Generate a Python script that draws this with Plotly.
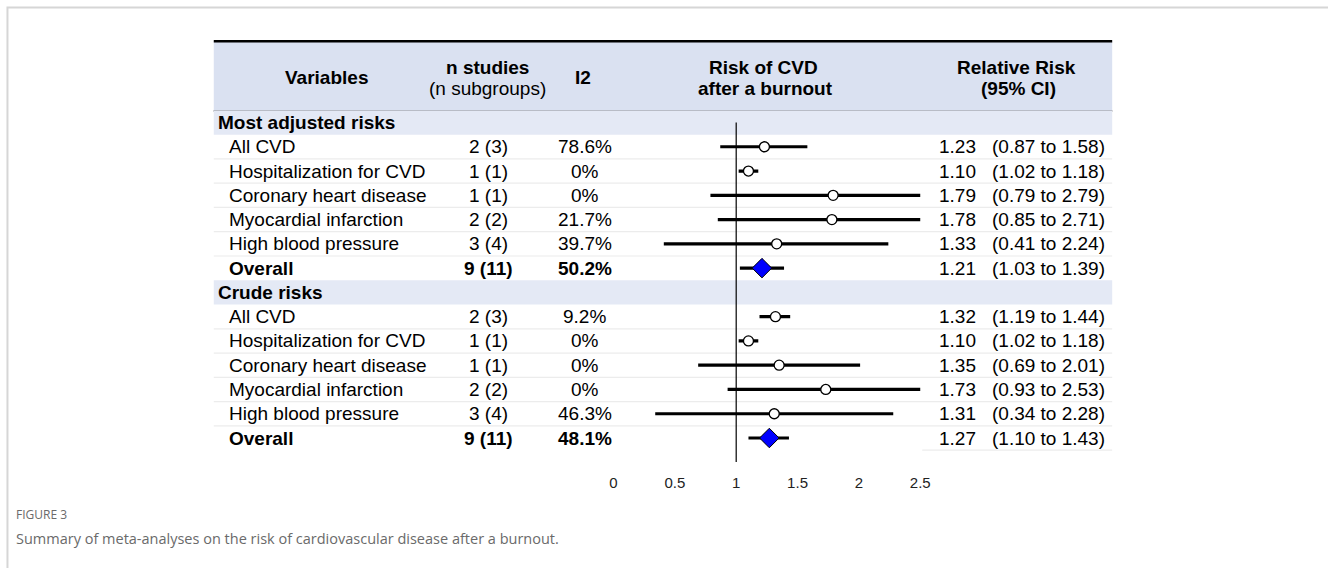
import plotly.graph_objects as go

# ---------------- data ----------------
groups = ["Most adjusted risks", "Crude risks"]
variables = ["All CVD", "Hospitalization for CVD", "Coronary heart disease",
             "Myocardial infarction", "High blood pressure", "Overall"]

adj_n = ["2 (3)", "1 (1)", "1 (1)", "2 (2)", "3 (4)", "9 (11)"]
adj_i2 = ["78.6%", "0%", "0%", "21.7%", "39.7%", "50.2%"]
adj_rr = [1.23, 1.10, 1.79, 1.78, 1.33, 1.21]
adj_lo = [0.87, 1.02, 0.79, 0.85, 0.41, 1.03]
adj_hi = [1.58, 1.18, 2.79, 2.71, 2.24, 1.39]

crude_n = ["2 (3)", "1 (1)", "1 (1)", "2 (2)", "3 (4)", "9 (11)"]
crude_i2 = ["9.2%", "0%", "0%", "0%", "46.3%", "48.1%"]
crude_rr = [1.32, 1.10, 1.35, 1.73, 1.31, 1.27]
crude_lo = [1.19, 1.02, 0.69, 0.93, 0.34, 1.10]
crude_hi = [1.44, 1.18, 2.01, 2.53, 2.28, 1.43]

tick_vals = [0, 0.5, 1, 1.5, 2, 2.5]
tick_text = ["0", "0.5", "1", "1.5", "2", "2.5"]
null_value = 1

header_cols = ["Variables", "n studies", "(n subgroups)", "I2",
               "Risk of CVD", "after a burnout", "Relative Risk", "(95% CI)"]
caption_label = "FIGURE 3"
caption_text = "Summary of meta-analyses on the risk of cardiovascular disease after a burnout."

# ---------------- layout constants ----------------
W, H = 1328, 568
ROW0_PX, ROW_PX = 122.5, 24.27          # pixel centre of row 0 and row pitch
def rows_at(px):
    return (px - ROW0_PX) / ROW_PX

TABLE_L, TABLE_R = 212, 1120
FOREST_L, FOREST_R = 616, 926
FONT = "Liberation Sans, Arial, sans-serif"
FS = 19
BLACK = "#000000"

fig = go.Figure()
shapes = []
ann = []

sets = [
    (groups[0], adj_n, adj_i2, adj_rr, adj_lo, adj_hi),
    (groups[1], crude_n, crude_i2, crude_rr, crude_lo, crude_hi),
]

# header band
shapes.append(dict(type="rect", xref="x", yref="y", x0=TABLE_L, x1=TABLE_R,
                   y0=rows_at(41), y1=rows_at(111), fillcolor="#dae1f1",
                   line_width=0, layer="below"))
shapes.append(dict(type="line", xref="x", yref="y", x0=TABLE_L, x1=TABLE_R,
                   y0=rows_at(41.2), y1=rows_at(41.2), line=dict(color=BLACK, width=2.6),
                   layer="below"))
shapes.append(dict(type="line", xref="x", yref="y", x0=TABLE_L, x1=TABLE_R,
                   y0=rows_at(111), y1=rows_at(111), line=dict(color=BLACK, width=1.6),
                   layer="below"))

# header texts
hdr = [
    (header_cols[0], 326, 77, True),
    (header_cols[1], 489, 67, True),
    (header_cols[2], 489, 88, False),
    (header_cols[3], 585, 77, True),
    (header_cols[4], 768, 67, True),
    (header_cols[5], 770, 88, True),
    (header_cols[6], 1023, 67, True),
    (header_cols[7], 1025, 88, True),
]
for t, x, y, b in hdr:
    ann.append(dict(x=x, y=rows_at(y), xref="x", yref="y", text=f"<b>{t}</b>" if b else t,
                    showarrow=False, xanchor="center", yanchor="middle",
                    font=dict(family=FONT, size=FS, color=BLACK)))

row = 0
for gname, ns, i2s, rr, lo, hi in sets:
    # group header row
    shapes.append(dict(type="rect", xref="x", yref="y", x0=TABLE_L, x1=TABLE_R,
                       y0=row - 0.5, y1=row + 0.5, fillcolor="#e4e9f5",
                       line_width=0, layer="below"))
    ann.append(dict(x=214, y=row, xref="x", yref="y", text=f"<b>{gname}</b>",
                    showarrow=False, xanchor="left", yanchor="middle",
                    font=dict(family=FONT, size=FS, color=BLACK)))
    row += 1
    rows = []
    for k, v in enumerate(variables):
        bold = (v == "Overall")
        fmt = (lambda s: f"<b>{s}</b>") if bold else (lambda s: s)
        ann.append(dict(x=225, y=row, xref="x", yref="y", text=fmt(v), showarrow=False,
                        xanchor="left", yanchor="middle",
                        font=dict(family=FONT, size=FS, color=BLACK)))
        ann.append(dict(x=490, y=row, xref="x", yref="y", text=fmt(ns[k]), showarrow=False,
                        xanchor="center", yanchor="middle",
                        font=dict(family=FONT, size=FS, color=BLACK)))
        ann.append(dict(x=587, y=row, xref="x", yref="y", text=fmt(i2s[k]), showarrow=False,
                        xanchor="center", yanchor="middle",
                        font=dict(family=FONT, size=FS, color=BLACK)))
        ann.append(dict(x=984, y=row, xref="x", yref="y", text=f"{rr[k]:.2f}", showarrow=False,
                        xanchor="right", yanchor="middle",
                        font=dict(family=FONT, size=FS, color=BLACK)))
        ann.append(dict(x=996, y=row, xref="x", yref="y",
                        text=f"({lo[k]:.2f} to {hi[k]:.2f})", showarrow=False,
                        xanchor="left", yanchor="middle",
                        font=dict(family=FONT, size=FS, color=BLACK)))
        # separator under row
        if k < len(variables) - 1:
            shapes.append(dict(type="line", xref="x", yref="y", x0=TABLE_L, x1=TABLE_R,
                               y0=row + 0.5, y1=row + 0.5,
                               line=dict(color="#ececec", width=1.2), layer="below"))
        rows.append(row)
        row += 1

    # CI lines
    xs, ys = [], []
    for r_, l_, h_ in zip(rows, lo, hi):
        xs += [l_, h_, None]
        ys += [r_, r_, None]
    fig.add_trace(go.Scatter(x=xs, y=ys, mode="lines", xaxis="x2", yaxis="y",
                             line=dict(color=BLACK, width=3.2), hoverinfo="skip",
                             showlegend=False))
    # study points
    fig.add_trace(go.Scatter(x=rr[:-1], y=rows[:-1], mode="markers", xaxis="x2", yaxis="y",
                             marker=dict(symbol="circle", size=10, color="white",
                                         line=dict(color=BLACK, width=1.3)),
                             showlegend=False))
    # overall diamond
    fig.add_trace(go.Scatter(x=[rr[-1]], y=[rows[-1]], mode="markers", xaxis="x2", yaxis="y",
                             marker=dict(symbol="diamond", size=15, color="#0000ff",
                                         line=dict(color=BLACK, width=1)),
                             showlegend=False))

last_row = row - 1
shapes.append(dict(type="line", xref="x", yref="y", x0=928, x1=TABLE_R,
                   y0=last_row + 0.5, y1=last_row + 0.5,
                   line=dict(color="#ececec", width=1.2), layer="below"))

# null line
shapes.append(dict(type="line", xref="x2", yref="y", x0=null_value, x1=null_value,
                   y0=0, y1=rows_at(462), line=dict(color=BLACK, width=1.2), layer="below"))

# figure frame (page card)
shapes.append(dict(type="rect", xref="paper", yref="paper", x0=3.5 / W, x1=1.05,
                   y0=-0.05, y1=1 - 7.5 / H, line=dict(color="#d6d6d6", width=2),
                   fillcolor="rgba(0,0,0,0)", layer="below"))

# caption
ann.append(dict(x=10, y=rows_at(514), xref="x", yref="y", text=caption_label, showarrow=False,
                xanchor="left", yanchor="middle",
                font=dict(family="Open Sans, sans-serif", size=12, color="#6a6a6a")))
ann.append(dict(x=10, y=rows_at(538), xref="x", yref="y", text=caption_text, showarrow=False,
                xanchor="left", yanchor="middle",
                font=dict(family="Open Sans, sans-serif", size=14.5, color="#6a6a6a")))

fig.update_layout(
    width=W, height=H,
    margin=dict(l=0, r=0, t=0, b=0),
    paper_bgcolor="white", plot_bgcolor="rgba(0,0,0,0)",
    xaxis=dict(range=[0, W], domain=[0, 1], visible=False, fixedrange=True),
    xaxis2=dict(range=[tick_vals[0], tick_vals[-1]], domain=[FOREST_L / W, FOREST_R / W],
                anchor="free", position=(H - 472) / H,
                tickvals=tick_vals, ticktext=tick_text, ticks="", showline=False,
                showgrid=False, zeroline=False, fixedrange=True,
                tickfont=dict(family=FONT, size=15, color="#222222")),
    yaxis=dict(range=[rows_at(H), rows_at(0)], domain=[0, 1], visible=False, fixedrange=True),
    shapes=shapes, annotations=ann, showlegend=False,
)

fig.write_html("out.html", config={"displayModeBar": False},
               post_script="document.body.style.margin='0';document.body.style.overflow='hidden';")
